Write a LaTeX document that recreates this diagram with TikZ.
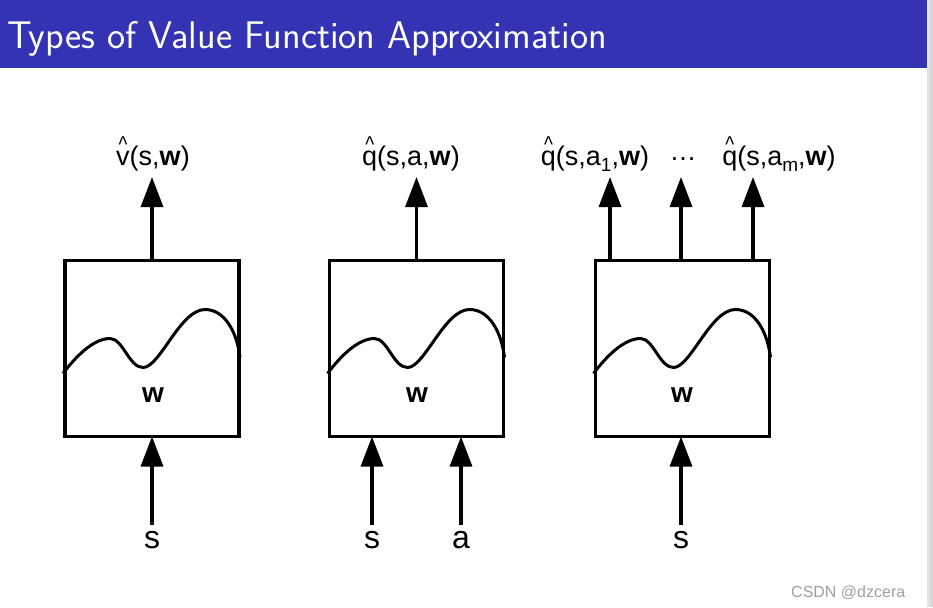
\documentclass[tikz,border=0pt]{standalone}
\usepackage{fontspec}
\setmainfont{Liberation Sans}
\usepackage{graphicx}
\usetikzlibrary{arrows.meta}
\definecolor{titleblue}{RGB}{51,51,179}
\definecolor{marktext}{RGB}{160,160,160}
\newcommand{\hatof}[1]{\leavevmode\setbox0\hbox{#1}\rlap{\hbox to \wd0{\hss\raisebox{0.48em}{\scalebox{0.7}[0.85]{\textasciicircum}}\hss}}\box0}
\newcommand{\lowsub}[1]{\raisebox{-6pt}{\fontsize{19}{20}\selectfont #1}}
\begin{document}
\begin{tikzpicture}[x=1pt,y=-1pt,
  box/.style={draw,line width=3.3pt,minimum width=174pt,minimum height=176pt,inner sep=0pt,outer sep=0pt},
  arr/.style={line width=3.2pt,-{Triangle[length=30pt,width=22pt]}},
  curve/.style={line width=3pt},
  lbl/.style={font=\fontsize{27}{30}\selectfont,inner sep=0pt,anchor=base},
  inl/.style={font=\fontsize{32}{36}\selectfont,inner sep=0pt,anchor=base},
  wl/.style={font=\fontsize{28}{30}\selectfont\bfseries,inner sep=0pt,anchor=base},
  wave/.pic={\draw[curve] (-2,113) .. controls (10,97) and (28,78) .. (45,78)
      .. controls (58,78) and (64,107) .. (78,107)
      .. controls (95,107) and (115,49) .. (140,49)
      .. controls (160,49) and (172,72) .. (175,97);}
]
\useasboundingbox (0,0) rectangle (933,607);
\fill[white] (0,0) rectangle (933,607);
% title bar
\fill[titleblue] (0,0) rectangle (927,68);
\fill[gray!22] (927,0) rectangle (930,607);
\fill[gray!32] (930,0) rectangle (933,607);
\node[anchor=base west,inner sep=0pt,text=white,font=\sffamily\fontsize{38.5}{42}\selectfont] (title) at (7,49) {Types of Value Function Approximation};

% boxes
\node[box] (b1) at (152,348.5) {};
\node[box] (b2) at (416.5,348.5) {};
\node[box] (b3) at (682.5,348.5) {};
\pic at (b1.north west) {wave};
\pic at (b2.north west) {wave};
\pic at (b3.north west) {wave};
\node[wl] (w1) at (153,402) {w};
\node[wl] (w2) at (417,402) {w};
\node[wl] (w3) at (682,402) {w};

% top labels
\node[lbl] (o1) at (153,165) {\hatof{v}(s,\textbf{w})};
\node[lbl] (o2) at (411,165) {\hatof{q}(s,a,\textbf{w})};
\node[lbl] (o3) at (595,165) {\hatof{q}(s,a\lowsub{1},\textbf{w})};
\node[lbl] (o4) at (683,165) {\raisebox{5pt}{…}};
\node[lbl] (o5) at (779,165) {\hatof{q}(s,a\lowsub{m},\textbf{w})};

% top arrows
\coordinate (t1) at (152,177);
\coordinate (t2) at (416.5,177);
\coordinate (t31) at (610,177);
\coordinate (t32) at (681,177);
\coordinate (t33) at (753,177);
\draw[arr] (b1.north) -- (t1);
\draw[arr] (b2.north) -- (t2);
\draw[arr] (b3.north -| t31) -- (t31);
\draw[arr] (b3.north -| t32) -- (t32);
\draw[arr] (b3.north -| t33) -- (t33);

% bottom labels and arrows
\node[inl] (s1) at (152,548) {s};
\node[inl] (s2) at (372,548) {s};
\node[inl] (a2) at (461,548) {a};
\node[inl] (s3) at (681,548) {s};
\draw[arr,shorten <=6pt] (s1.north) -- (s1.north |- b1.south);
\draw[arr,shorten <=6pt] (s2.north) -- (s2.north |- b2.south);
\draw[arr,shorten <=6pt] (a2.north) -- (a2.north |- b2.south);
\draw[arr,shorten <=6pt] (s3.north) -- (s3.north |- b3.south);

% watermark
\node[anchor=base west,inner sep=0pt,text=marktext,font=\fontsize{16}{18}\selectfont] (mark) at (791,597) {CSDN @dzcera};
\end{tikzpicture}
\end{document}
